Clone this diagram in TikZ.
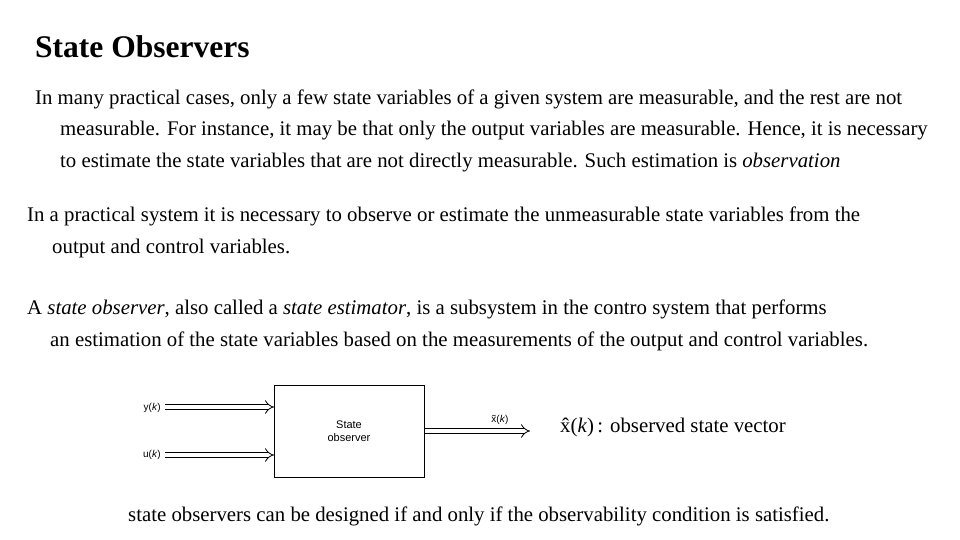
\documentclass[tikz,border=0pt]{standalone}
\usepackage{fontspec}
\setmainfont{Liberation Serif}
\newfontfamily\diagfont{Liberation Sans}
\usetikzlibrary{arrows.meta}
\begin{document}
\begin{tikzpicture}[x=1pt,y=-1pt,
  txt/.style={anchor=west,inner sep=0pt,font=\fontsize{20.8}{24}\selectfont},
  lbl/.style={inner sep=1pt,font=\diagfont\fontsize{10}{12}\selectfont},
  dbl/.style={double,double distance=4pt,line width=0.8pt,-{Implies}}]
\useasboundingbox (0,0) rectangle (960,540);
\node[anchor=west,inner sep=0pt,font=\fontsize{31.5}{35}\bfseries\selectfont] (title) at (35,47) {State Observers};
\node[txt] (p1a) at (35,99) {In many practical cases, only a few state variables of a given system are measurable, and the rest are not};
\node[txt] (p1b) at (60,131) {measurable. For instance, it may be that only the output variables are measurable. Hence, it is necessary};
\node[txt] (p1c) at (60,163) {to estimate the state variables that are not directly measurable. Such estimation is \textit{observation}};
\node[txt] (p2a) at (27,216) {In a practical system it is necessary to observe or estimate the unmeasurable state variables from the};
\node[txt] (p2b) at (52,248) {output and control variables.};
\node[txt] (p3a) at (27,309) {A \textit{state observer}, also called a \textit{state estimator}, is a subsystem in the contro system that performs};
\node[txt] (p3b) at (50,341) {an estimation of the state variables based on the measurements of the output and control variables.};
\coordinate (ys) at (165,407);
\coordinate (us) at (165,455);
\coordinate (ye) at (274,407);
\coordinate (ue) at (274,455);
\coordinate (xs) at (424,431);
\coordinate (xe) at (530,431);
\draw[dbl] (ys) -- (ye);
\draw[dbl] (us) -- (ue);
\draw[dbl] (xs) -- (xe);
\node[draw,fill=white,line width=0.8pt,minimum width=150pt,minimum height=92pt,inner sep=0pt,
  align=center,font=\diagfont\fontsize{11}{13}\selectfont] (obs) at (349,431) {State\\observer};
\node[lbl,anchor=east] (yl) at (162,408) {y(\textit{k})};
\node[lbl,anchor=east] (ul) at (162,455) {u(\textit{k})};
\node[lbl] (xl) at (500,420) {\~{x}(\textit{k})};
\node[txt] (xhat) at (560,427) {\^{x}(\textit{k})\,: observed state vector};
\node[txt] (last) at (128,516) {state observers can be designed if and only if the observability condition is satisfied.};
\end{tikzpicture}
\end{document}
